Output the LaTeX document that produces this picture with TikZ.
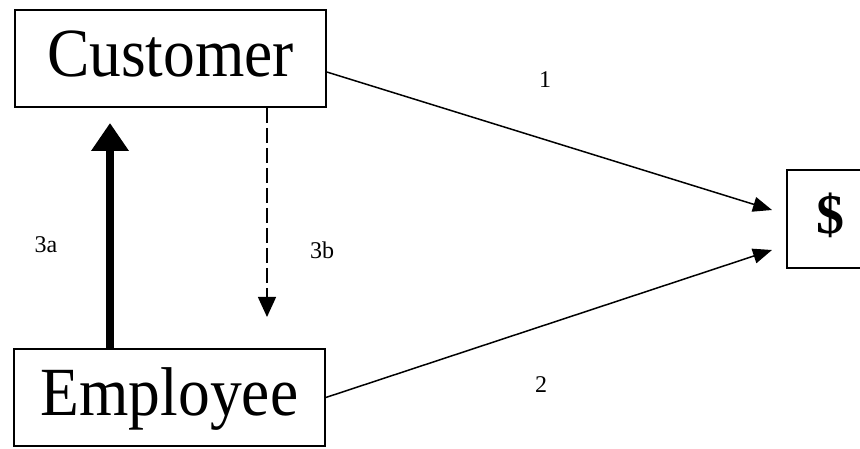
\documentclass[tikz,border=0pt]{standalone}
\usepackage{fontspec}
\setmainfont{Liberation Serif}
\newfontfamily\narrowfont[FakeStretch=0.92]{Liberation Serif}
\usetikzlibrary{arrows.meta}

\begin{document}
\begin{tikzpicture}[x=1pt,y=-1pt,
    box/.style={draw,line width=1.6pt,inner sep=0pt,minimum width=311pt,minimum height=97pt,
                font=\narrowfont\fontsize{69}{69}\selectfont,text height=46pt,text depth=10pt},
    money/.style={draw,line width=1.6pt,inner sep=0pt,minimum width=86pt,minimum height=98pt,
                font=\bfseries\fontsize{56}{56}\selectfont,text height=38pt,text depth=9pt},
    lbl/.style={font=\fontsize{24}{24}\selectfont,inner sep=0pt},
    flow/.style={line width=1.5pt,-{Triangle[length=19pt,width=15pt]}},
    strong/.style={line width=8pt,-{Triangle[length=28pt,width=36pt]}},
    weak/.style={line width=1.4pt,dash pattern=on 15pt off 5pt,-{Triangle[length=20pt,width=18pt]}}]
    \clip (0,0) rectangle (860,449);
    \node[box] (C) at (170.5,58.5) {Customer};
    \node[box] (E) at (169.5,397.5) {Employee};
    \node[money] (D) at (830,219) {\$};

    \coordinate (t1) at (772,210);
    \coordinate (t2) at (772,250);
    \coordinate (up) at (110,123);
    \coordinate (down) at (267,317);

    \draw[flow] ([yshift=-13.5pt]C.east) -- (t1);
    \draw[flow] (E.east) -- (t2);
    \draw[strong] (E.north -| up) -- (up);
    \draw[weak] (C.south -| down) -- (down);

    \node[lbl] (n1) at (545,80) {1};
    \node[lbl] (n2) at (541,385) {2};
    \node[lbl] (n3a) at (46,245) {3a};
    \node[lbl] (n3b) at (322,250) {3b};
\end{tikzpicture}
\end{document}
